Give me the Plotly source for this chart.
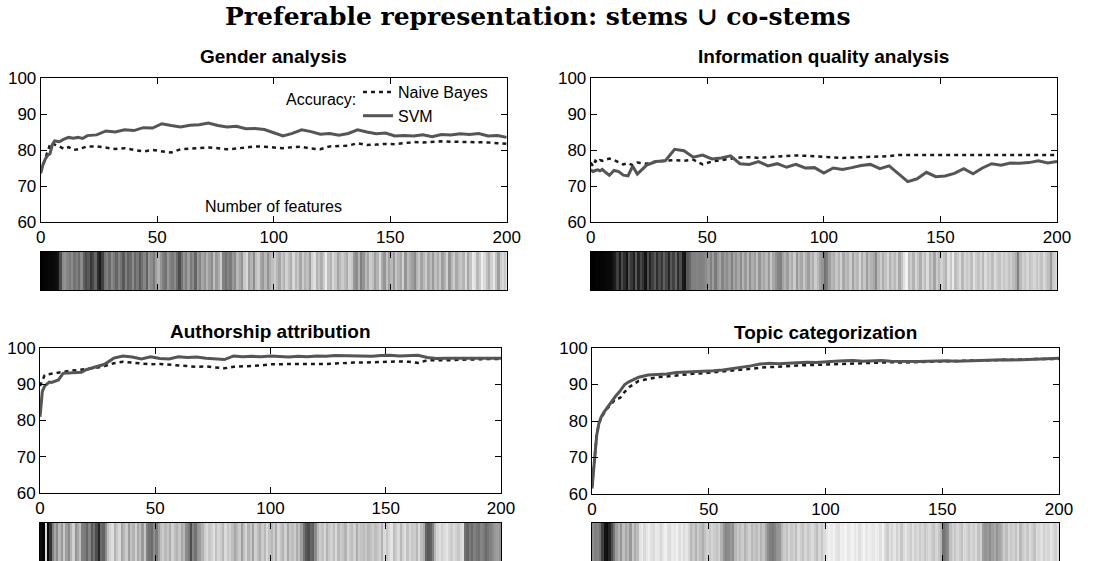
import plotly.graph_objects as go

# ---------------- data ----------------
features = [0, 1, 2, 3, 4, 5, 6, 8, 10, 12, 14, 16, 18, 20, 24, 28, 32, 36, 40, 44,
            48, 52, 56, 60, 64, 68, 72, 76, 80, 84, 88, 92, 96, 100, 104, 108, 112, 116, 120, 124,
            128, 132, 136, 140, 144, 148, 152, 156, 160, 164, 168, 172, 176, 180, 184, 188, 192, 196, 200]

gender_nb = [74, 76, 78, 80, 81.5, 82, 81.5, 81, 80.3, 80.8, 80, 80.2, 80.5, 81, 81, 80.6, 80.3, 80.5, 80, 79.6,
             80, 79.7, 79.3, 80.2, 80.4, 80.6, 80.7, 80.5, 80.2, 80.4, 80.8, 81, 80.9, 80.6, 80.5, 80.8, 80.9, 80.4, 80.2, 81,
             81.1, 81.2, 81.9, 81.4, 81.5, 81.7, 81.6, 82, 82.2, 82.1, 82.3, 82.4, 82.3, 82.3, 82.2, 82.3, 82.1, 81.9, 81.7]
gender_svm = [73.5, 76, 77.5, 78.5, 79, 81.5, 82.5, 82.3, 83, 83.5, 83.3, 83.5, 83.2, 84, 84.2, 85.3, 85, 85.6, 85.4, 86.2,
              86.1, 87.3, 86.8, 86.4, 86.9, 87, 87.5, 86.8, 86.4, 86.6, 85.9, 86, 85.7, 84.9, 83.9, 84.6, 85.6, 85.1, 84.4, 84.6,
              84.1, 84.6, 85.6, 85, 84.5, 84.7, 83.9, 84, 83.9, 84.2, 83.7, 84.3, 84.2, 84.5, 84.3, 84.6, 83.9, 84, 83.5]

infoq_nb = [76.5, 75.5, 77, 76.5, 77.2, 77, 77.3, 77.6, 77.2, 76.5, 76, 76.3, 75.8, 76.5, 76.2, 76.8, 77, 77.2, 77, 77.3,
            76, 76.8, 77.2, 77.6, 77.9, 78, 77.8, 78, 78.2, 78.3, 78.5, 78.4, 78.2, 78, 77.9, 77.8, 77.9, 78, 78, 78.1,
            78.3, 78.6, 78.6, 78.6, 78.5, 78.6, 78.6, 78.7, 78.6, 78.6, 78.6, 78.6, 78.6, 78.6, 78.7, 78.6, 78.6, 78.7, 78.6]
infoq_svm = [74.5, 74, 74.3, 74.5, 74.2, 74.6, 74, 73, 74.3, 74, 73, 72.8, 75.5, 73.3, 75.8, 76.8, 77, 80.2, 79.8, 78,
             78.6, 77.5, 77.8, 78.4, 76.2, 76, 76.8, 75.6, 76.2, 75.2, 76, 75, 75.1, 73.6, 75, 74.6, 75.1, 75.7, 76, 74.8,
             75.6, 73.4, 71.2, 72, 73.8, 72.6, 72.8, 73.5, 74.8, 73.4, 75, 76.2, 75.8, 76.4, 76.3, 76.5, 77, 76.4, 76.8]

author_nb = [89.5, 91, 92.5, 92.7, 92.8, 93, 93.2, 93.4, 93.5, 93.6, 93.8, 93.9, 94, 94.1, 94.5, 95, 95.8, 96.2, 95.9, 95.6,
             95.5, 95.6, 95.4, 95.2, 95.1, 94.8, 94.9, 94.7, 94.4, 94.8, 94.9, 95, 95.2, 95.5, 95.6, 95.7, 95.6, 95.6, 95.5, 95.6,
             95.7, 95.9, 96, 96, 96.1, 96.2, 96.3, 96.3, 96.2, 95.9, 96.6, 96.5, 96.6, 96.7, 96.8, 97, 96.9, 97, 97]
author_svm = [81, 88, 89.5, 90.2, 90.6, 90.5, 90.7, 91.2, 93, 93.1, 93.2, 93.1, 93.3, 94, 94.8, 95.5, 97.2, 97.8, 97.5, 97,
              97.6, 97.1, 97, 97.6, 97.4, 97.5, 97.2, 96.9, 96.8, 97.8, 97.6, 97.7, 97.6, 97.8, 97.6, 97.5, 97.7, 97.6, 97.8, 97.7,
              97.9, 97.8, 97.8, 97.6, 97.7, 97.9, 98, 97.8, 97.9, 98, 97.4, 97.1, 97.2, 97.2, 97.3, 97.2, 97.4, 97.3, 97.2]

topic_nb = [62, 70, 76, 79.5, 81, 82, 83, 84.5, 86, 86.3, 88, 89.3, 90.2, 91, 91.5, 92, 92.2, 92.5, 92.8, 93,
            93.1, 93.3, 93.5, 93.7, 94, 94.3, 94.6, 94.8, 95, 95.1, 95.2, 95.3, 95.4, 95.5, 95.6, 95.7, 95.8, 95.9, 96, 96,
            96.1, 96, 96.1, 96.2, 96.3, 96.4, 96.4, 96.5, 96.5, 96.6, 96.6, 96.7, 96.7, 96.8, 96.8, 96.9, 97, 97, 97]
topic_svm = [61.5, 70, 76, 79.5, 81.2, 82.3, 83.2, 84.8, 86.7, 88.2, 90, 90.8, 91.4, 92, 92.6, 92.7, 92.9, 93.3, 93.4, 93.4,
             93.6, 93.8, 94, 94.3, 94.6, 95.1, 95.6, 95.8, 95.7, 95.9, 96, 96.1, 96, 96.3, 96.4, 96.5, 96.6, 96.4, 96.5, 96.6,
             96.4, 96.3, 96.4, 96.3, 96.4, 96.5, 96.5, 96.4, 96.5, 96.6, 96.7, 96.9, 96.8, 96.7, 96.8, 97, 97.1, 97.2, 97.2]

# feature-strip gray levels (0 = black, 100 = white), one value per feature rank 1..200
gender_strip = [0, 2, 2, 3, 3, 4, 5, 8, 30, 55, 58, 52, 48, 55, 45, 50, 42, 55, 38, 30,
                35, 22, 28, 40, 18, 10, 25, 45, 50, 42, 55, 48, 40, 52, 45, 35, 50, 38, 42, 55,
                40, 48, 35, 45, 52, 38, 60, 55, 48, 62, 70, 58, 50, 45, 60, 52, 48, 55, 42, 30,
                45, 58, 50, 62, 48, 55, 40, 60, 52, 65, 58, 70, 62, 55, 75, 60, 68, 80, 50, 45,
                52, 48, 60, 55, 72, 65, 58, 78, 85, 62, 70, 55, 75, 80, 65, 60, 72, 58, 68, 75,
                80, 72, 65, 78, 70, 82, 75, 68, 85, 72, 78, 65, 80, 70, 75, 62, 82, 88, 70, 76,
                68, 80, 92, 75, 70, 85, 78, 65, 72, 80, 74, 68, 82, 78, 60, 55, 70, 50, 58, 72,
                65, 80, 75, 62, 70, 85, 68, 58, 76, 64, 72, 60, 78, 70, 65, 82, 58, 74, 68, 62,
                55, 70, 78, 64, 72, 80, 66, 74, 60, 75, 68, 78, 62, 70, 82, 58, 72, 80, 66, 74,
                78, 70, 85, 65, 76, 92, 88, 72, 80, 94, 86, 75, 68, 82, 90, 76, 62, 80, 85, 78]
infoq_strip = [0, 0, 1, 1, 2, 2, 3, 3, 4, 8, 12, 25, 10, 30, 18, 8, 32, 22, 12, 35,
               15, 28, 20, 8, 30, 14, 25, 35, 18, 30, 22, 38, 28, 15, 35, 25, 40, 18, 30, 10,
               8, 35, 40, 50, 50, 52, 50, 50, 52, 55, 60, 50, 62, 48, 58, 65, 52, 60, 55, 62,
               50, 64, 58, 66, 55, 70, 60, 72, 56, 68, 62, 75, 58, 70, 65, 72, 60, 78, 66, 58,
               52, 50, 64, 70, 62, 75, 68, 80, 60, 72, 66, 78, 70, 62, 74, 68, 80, 72, 64, 58,
               45, 50, 62, 72, 68, 78, 70, 82, 66, 74, 70, 80, 64, 76, 72, 84, 68, 78, 62, 74,
               70, 66, 55, 72, 80, 68, 76, 84, 70, 78, 72, 82, 66, 76, 88, 95, 74, 80, 70, 84,
               76, 68, 82, 74, 86, 70, 78, 64, 80, 72, 82, 76, 70, 88, 78, 92, 74, 80, 86, 72,
               84, 78, 82, 74, 88, 80, 76, 84, 72, 86, 78, 82, 74, 86, 80, 76, 84, 78, 82, 76,
               80, 74, 68, 50, 72, 82, 78, 84, 76, 80, 84, 78, 82, 76, 86, 80, 74, 60, 78, 82]
author_strip = [5, 2, 85, 3, 20, 50, 65, 55, 72, 60, 78, 62, 55, 70, 82, 58, 66, 75, 50, 48,
                40, 52, 35, 45, 30, 15, 42, 38, 55, 75, 82, 88, 70, 78, 85, 65, 72, 80, 62, 76,
                70, 82, 66, 74, 60, 78, 50, 45, 42, 55, 48, 62, 75, 80, 72, 78, 68, 82, 74, 70,
                78, 66, 72, 55, 48, 30, 52, 45, 58, 62, 70, 80, 85, 78, 82, 88, 76, 84, 80, 72,
                86, 78, 82, 74, 66, 72, 80, 62, 76, 84, 70, 78, 64, 82, 74, 68, 80, 72, 85, 76,
                72, 80, 68, 84, 76, 70, 82, 66, 78, 74, 80, 68, 75, 62, 45, 35, 30, 40, 38, 55,
                72, 80, 76, 84, 70, 78, 82, 74, 86, 72, 80, 76, 70, 84, 78, 74, 82, 68, 80, 76,
                74, 78, 72, 76, 80, 74, 78, 82, 70, 86, 78, 84, 90, 74, 80, 86, 72, 82, 88, 76,
                84, 78, 80, 72, 86, 74, 68, 40, 35, 38, 50, 72, 84, 88, 82, 86, 90, 84, 80, 86,
                82, 78, 85, 88, 45, 40, 48, 42, 50, 46, 44, 52, 48, 42, 46, 50, 55, 60, 62, 58]
topic_strip = [55, 50, 52, 45, 25, 8, 5, 15, 30, 45, 62, 70, 58, 75, 66, 72, 60, 78, 68, 74,
               88, 92, 85, 90, 94, 88, 86, 92, 90, 84, 90, 94, 88, 86, 92, 90, 95, 88, 92, 86,
               90, 84, 72, 78, 70, 80, 74, 68, 76, 82, 78, 84, 80, 76, 82, 70, 58, 52, 55, 60,
               56, 72, 78, 74, 80, 70, 76, 82, 72, 78, 74, 80, 70, 76, 65, 55, 50, 48, 52, 58,
               60, 72, 80, 76, 84, 78, 82, 74, 86, 80, 76, 84, 78, 82, 86, 80, 74, 84, 78, 86,
               90, 94, 92, 95, 90, 88, 94, 92, 96, 90, 92, 95, 90, 94, 88, 92, 96, 90, 94, 92,
               90, 94, 92, 88, 95, 86, 80, 88, 84, 90, 82, 88, 78, 86, 90, 84, 80, 88, 82, 86,
               80, 84, 78, 82, 86, 80, 76, 84, 78, 70, 45, 50, 55, 75, 82, 78, 84, 80, 76, 86,
               82, 78, 84, 80, 86, 76, 82, 62, 58, 60, 55, 62, 66, 58, 64, 70, 80, 74, 84, 78,
               82, 76, 86, 72, 80, 84, 78, 86, 82, 76, 86, 84, 88, 82, 86, 84, 90, 86, 82, 88]

panel_titles = ["Gender analysis", "Information quality analysis",
                "Authorship attribution", "Topic categorization"]
series_names = ["Naive Bayes", "SVM"]
y_ticks = [60, 70, 80, 90, 100]
x_ticks = [0, 50, 100, 150, 200]
main_title = "Preferable representation: stems \u222a co-stems"

panels_data = [
    (gender_nb, gender_svm, gender_strip),
    (infoq_nb, infoq_svm, infoq_strip),
    (author_nb, author_svm, author_strip),
    (topic_nb, topic_svm, topic_strip),
]

# ---------------- layout geometry (pixels) ----------------
W, H = 1109, 561
geom = [
    (40.7, 506.7, 78, 222, 252, 290),
    (590.7, 1057, 78, 222, 252, 290),
    (40, 501, 348, 493, 523, 561),
    (592, 1059, 348, 494, 523, 561),
]
title_y = [57, 57, 331, 332]

FONT = "Liberation Sans, Arial, sans-serif"
fig = go.Figure()
layout = dict(
    width=W, height=H, autosize=False,
    margin=dict(l=0, r=0, t=0, b=0, pad=0, autoexpand=False),
    paper_bgcolor="white", plot_bgcolor="white",
    font=dict(family=FONT, size=17, color="black"),
    showlegend=True,
    legend=dict(
        x=358 / W, y=1 - 75 / H, xanchor="left", yanchor="top",
        bgcolor="rgba(0,0,0,0)", font=dict(size=16, family=FONT),
        tracegroupgap=0, itemwidth=30, borderwidth=0,
    ),
)
annotations = [dict(text="<b>" + main_title + "</b>", x=538 / W, y=1 - 17 / H, xref="paper", yref="paper",
                    xanchor="center", yanchor="middle", showarrow=False,
                    font=dict(family="DejaVu Serif, serif", size=25, color="black")),
               dict(text="Accuracy:", x=358 / W, y=1 - 100 / H, xref="paper", yref="paper",
                    xanchor="right", yanchor="middle", showarrow=False,
                    font=dict(family=FONT, size=16, color="black"))]

for i, ((nb, svm, strip), (x0, x1, yt, yb, ht, hb)) in enumerate(zip(panels_data, geom)):
    la = 2 * i + 1
    ha = 2 * i + 2
    lx = "x" if la == 1 else f"x{la}"
    ly = "y" if la == 1 else f"y{la}"
    hx = f"x{ha}"
    hy = f"y{ha}"
    fig.add_trace(go.Scatter(x=features, y=nb, mode="lines", name=series_names[0],
                             line=dict(color="#1a1a1a", width=2.5, dash="4px,4px"),
                             xaxis=lx, yaxis=ly, showlegend=(i == 0)))
    fig.add_trace(go.Scatter(x=features, y=svm, mode="lines", name=series_names[1],
                             line=dict(color="#555555", width=3),
                             xaxis=lx, yaxis=ly, showlegend=(i == 0)))
    ranks = [k + 0.5 for k in range(len(strip))]
    fig.add_trace(go.Heatmap(x=ranks, y=[0], z=[strip], zmin=0, zmax=100,
                             colorscale=[[0, "black"], [1, "white"]], showscale=False,
                             xaxis=hx, yaxis=hy, hoverinfo="skip"))
    dom_x = [x0 / W, x1 / W]
    common = dict(showline=True, linecolor="black", linewidth=1, mirror="ticks",
                  ticks="inside", tickcolor="black", ticklen=6, tickwidth=1,
                  showgrid=False, zeroline=False, automargin=False)
    layout["xaxis" if la == 1 else f"xaxis{la}"] = dict(
        domain=dom_x, range=[0, 200], tickvals=x_ticks, anchor=ly,
        tickfont=dict(size=17), **common)
    layout["yaxis" if la == 1 else f"yaxis{la}"] = dict(
        domain=[1 - yb / H, 1 - yt / H], range=[60, 100], tickvals=y_ticks, anchor=lx,
        tickfont=dict(size=17), **common)
    layout[f"xaxis{ha}"] = dict(
        domain=dom_x, range=[0, 200], tickvals=[50, 100, 150], showticklabels=False,
        anchor=hy, **common)
    layout[f"yaxis{ha}"] = dict(
        domain=[max(0, 1 - hb / H), 1 - ht / H], range=[-0.5, 0.5], showticklabels=False,
        anchor=hx, showline=True, linecolor="black", linewidth=1, mirror=True,
        ticks="", showgrid=False, zeroline=False, automargin=False)
    annotations.append(dict(text="<b>" + panel_titles[i] + "</b>", x=(x0 + x1) / 2 / W,
                            y=1 - title_y[i] / H, xref="paper", yref="paper",
                            xanchor="center", yanchor="middle", showarrow=False,
                            font=dict(family=FONT, size=19, color="black")))

annotations.append(dict(text="Number of features", x=100, y=64.3, xref="x", yref="y",
                        xanchor="center", yanchor="middle", showarrow=False,
                        font=dict(family=FONT, size=16, color="black")))
layout["annotations"] = annotations
fig.update_layout(**layout)
fig.write_html("out.html", config={"displayModeBar": False},
               post_script="document.body.style.margin='0px';document.body.style.padding='0px';")
